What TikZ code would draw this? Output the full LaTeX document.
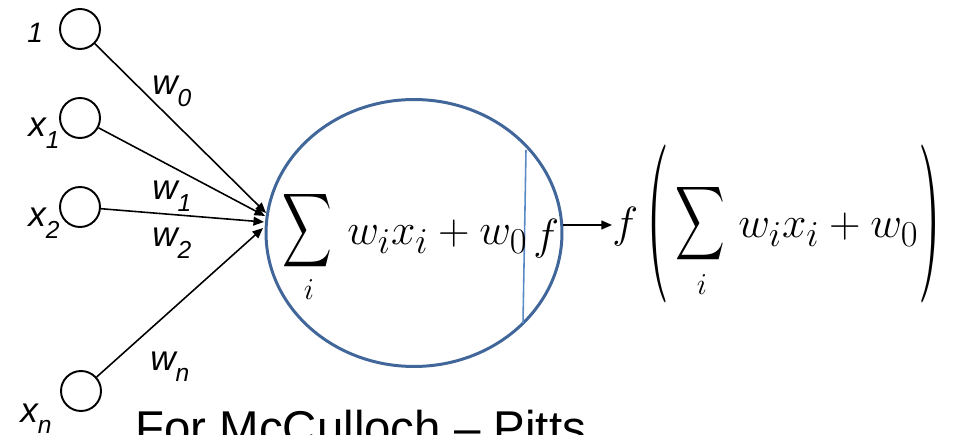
\documentclass[tikz,border=0pt]{standalone}
\usepackage{amsmath}
\usepackage{graphicx}
\usepackage[no-math]{fontspec}
\setmainfont{Liberation Sans}
\usetikzlibrary{shapes.geometric,arrows.meta}
\definecolor{nblue}{HTML}{41669A}
\definecolor{lblue}{HTML}{5A8AC6}
\newcommand\inlab[2]{{\fontsize{20}{24}\selectfont\itshape #1}\raisebox{-6.5pt}{\fontsize{14}{16}\selectfont\itshape #2}}
\newcommand\bigsum{\resizebox*{28.3pt}{47pt}{$\displaystyle\sum$}}
\newcommand\bigparL{\resizebox*{13pt}{90pt}{$($}}
\newcommand\bigparR{\resizebox*{13pt}{90pt}{$)$}}
\tikzset{
  incirc/.style={circle, draw, line width=1.1pt, minimum size=0.8cm, inner sep=0pt},
  conn/.style={line width=0.9pt, -{Triangle[length=6pt,width=5pt]}},
  lab/.style={inner sep=0pt, anchor=base west},
  mth/.style={inner sep=0pt, font=\fontsize{24.88}{29}\selectfont},
  neuronstyle/.style={ellipse, draw=nblue, line width=1.7pt, inner sep=0pt, minimum width=5.92cm, minimum height=5.34cm},
  vline/.style={draw=lblue, line width=0.9pt}
}
\begin{document}
\begin{tikzpicture}[x=0.02cm,y=-0.02cm]
\path[use as bounding box, clip] (0,0) rectangle (956,435);
% input circles
\node[incirc] (c0) at (80,29) {};
\node[incirc] (c1) at (80,118) {};
\node[incirc] (c2) at (80,207) {};
\node[incirc] (cn) at (81,391) {};
% input labels
\node[lab] (l0) at (27,43) {\fontsize{16}{19}\selectfont\itshape 1};
\node[lab] (l1) at (28,137) {\inlab{x}{1}};
\node[lab] (l2) at (28,227) {\inlab{x}{2}};
\node[lab] (ln) at (20,422) {\inlab{x}{n}};
% weights
\node[lab] (w0) at (152,95) {\inlab{w}{0}};
\node[lab] (w1) at (152,200) {\inlab{w}{1}};
\node[lab] (w2) at (152,247) {\inlab{w}{2}};
\node[lab] (wn) at (150,370) {\inlab{w}{n}};
% neuron
\node[neuronstyle] (neuron) at (414,233) {};
\draw[vline] (526,150) -- (523,323);
% arrow tips
\coordinate (t0) at (266,213);
\coordinate (t1) at (265,216);
\coordinate (t2) at (264,222);
\coordinate (tn) at (263,228);
\draw[conn] (c0) -- (t0);
\draw[conn] (c1) -- (t1);
\draw[conn] (c2) -- (t2);
\draw[conn] (cn) -- (tn);
% inside formula
\node[inner sep=0pt] (s1) at (307,231) {\bigsum};
\node[inner sep=0pt, font=\fontsize{17.28}{20}\selectfont] (i1) at (309,290) {$i$};
\node[mth, anchor=base west] (e1) at (347,245) {$w_i x_i + w_0$};
\node[mth, anchor=base west] (f1) at (533,250) {$f$};
% output
\coordinate (oa) at (612,225);
\draw[conn] (neuron.east |- oa) -- (oa);
\node[mth, anchor=base west] (f2) at (612,238) {$f$};
\node[inner sep=0pt] (pl) at (658,224) {\bigparL};
\node[inner sep=0pt] (s2) at (700,223.5) {\bigsum};
\node[inner sep=0pt, font=\fontsize{17.28}{20}\selectfont] (i2) at (702,284.5) {$i$};
\node[mth, anchor=base west] (e2) at (738,238) {$w_i x_i + w_0$};
\node[inner sep=0pt] (pr) at (930,224) {\bigparR};
% caption
\node[lab] (cap) at (135,444) {\fontsize{27}{32}\selectfont For McCulloch – Pitts};
\end{tikzpicture}
\end{document}
